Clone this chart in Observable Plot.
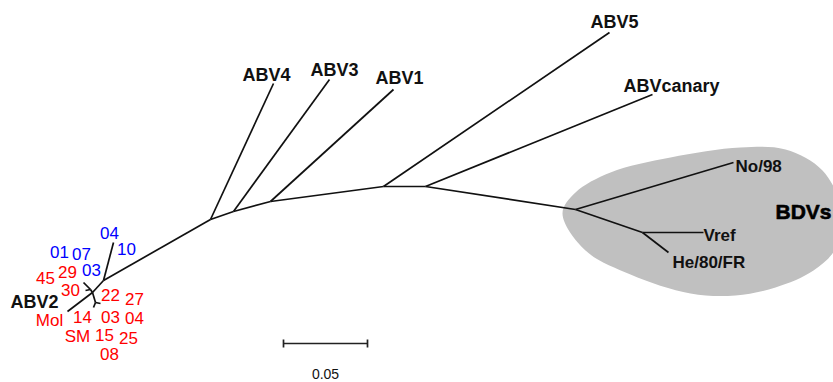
<!DOCTYPE html>
<html><head><meta charset="utf-8">
<script src="https://cdn.jsdelivr.net/npm/d3@7"></script>
<script src="https://cdn.jsdelivr.net/npm/@observablehq/plot@0.6"></script>
<style>html,body{margin:0;padding:0;background:#fff;overflow:hidden}</style>
</head><body><div id="chart"></div>
<script>
// Tree nodes (layout coordinates of the unrooted tree drawing)
const nodeId = ["a2","j1","j3","b4","b3","b1","b5","bc","bd","bv","t4","t3","t1","t5","tc","tno","tvr","the","tbl","h","w1","w2","yn","w3","w4"];
const nodeX  = [67, 92, 103, 210, 233, 270, 383, 425, 575, 642, 273, 329, 393, 609, 652, 733, 703, 668, 113, 90, 83, 85, 95, 100, 93];
const nodeY  = [311, 292, 280, 219, 211, 201, 186, 186, 209, 232, 83, 79, 89, 32, 94, 162, 232, 252, 242, 289, 282, 290, 302, 303, 307];

// Branches
const edgeFrom = ["a2","j1","j3","b4","b3","b1","b5","bc","bd","j3","b4","b3","b1","b5","bc","bd","bv","bv","j1","h","h","j1","yn","yn"];
const edgeTo   = ["j1","j3","b4","b3","b1","b5","bc","bd","bv","tbl","t4","t3","t1","t5","tc","tno","tvr","the","h","w1","w2","yn","w3","w4"];

// BDV clade outline
const blobX = [562,575,610,670,740,785,822,841,835,813,775,735,690,630,585];
const blobY = [213,192,172,157,147,149,170,210,248,270,287,295,293,274,250];

// Clade / strain labels (start-anchored)
const cladeText = ["ABV4","ABV3","ABV1","ABV5","ABVcanary","ABV2"];
const cladeX = [242,310,375,590,623,10];
const cladeY = [80,75,83,27,91,307];
const bdvText = ["No/98","Vref","He/80/FR"];
const bdvX = [735,703,672];
const bdvY = [171,240,267];
const groupText = ["BDVs"];
const groupX = [775];
const groupY = [218];

// Isolate labels (centered)
const isoText  = ["04","10","01","07","03","45","29","30","22","27","Mol","14","03","04","SM","15","25","08"];
const isoGroup = ["blue","blue","blue","blue","blue","red","red","red","red","red","red","red","red","red","red","red","red","red"];
const isoX = [109,126,59,81,91,45,67,70,110,134,49,82,110,134,77,104,128,109];
const isoY = [238,254,257,259,275,283,277,295,300,304,325,322,322,323,341,340,343,359];

// Scale bar
const scaleValue = 0.05;
const unitsPerBranch = 1680;
const scaleX0 = 283, scaleY0 = 343;

const pos = new Map(nodeId.map((id,i)=>[id,[nodeX[i],nodeY[i]]]));
const edges = edgeFrom.map((f,i)=>({x1:pos.get(f)[0],y1:pos.get(f)[1],x2:pos.get(edgeTo[i])[0],y2:pos.get(edgeTo[i])[1]}));
const blob = blobX.map((x,i)=>({x,y:blobY[i]}));
const clades = cladeText.map((t,i)=>({t,x:cladeX[i],y:cladeY[i]}));
const bdvs = bdvText.map((t,i)=>({t,x:bdvX[i],y:bdvY[i]}));
const groups = groupText.map((t,i)=>({t,x:groupX[i],y:groupY[i]}));
const isos = isoText.map((t,i)=>({t,g:isoGroup[i],x:isoX[i],y:isoY[i]}));
const sx1 = scaleX0 + scaleValue*unitsPerBranch;
const bar = [{x1:scaleX0,y1:scaleY0,x2:sx1,y2:scaleY0},{x1:scaleX0,y1:scaleY0-4,x2:scaleX0,y2:scaleY0+4},{x1:sx1,y1:scaleY0-4,x2:sx1,y2:scaleY0+4}];

const font = "'Liberation Sans', Arial, sans-serif";
const chart = Plot.plot({
  width: 833, height: 382,
  margin: 0,
  x: {domain:[0,833], range:[0,833], axis:null},
  y: {domain:[0,382], range:[0,382], axis:null},
  color: {domain:["blue","red"], range:["#0000ff","#ff0000"]},
  style: {fontFamily: font, background:"#fff"},
  marks: [
    Plot.line(blob, {x:"x", y:"y", curve:"catmull-rom-closed", fill:"#c0c0c0", stroke:"none", clip:true}),
    Plot.link(edges, {x1:"x1",y1:"y1",x2:"x2",y2:"y2", stroke:"#111", strokeWidth:1.7}),
    Plot.link(bar, {x1:"x1",y1:"y1",x2:"x2",y2:"y2", stroke:"#222", strokeWidth:1.7}),
    Plot.text(["0.05"], {x:[(scaleX0+sx1)/2], y:[378], text:d=>d, fontSize:14, fill:"#111", lineAnchor:"bottom"}),
    Plot.text(clades, {x:"x", y:"y", text:"t", textAnchor:"start", lineAnchor:"bottom", fontSize:18, fontWeight:"bold", fill:"#111"}),
    Plot.text(bdvs, {x:"x", y:"y", text:"t", textAnchor:"start", lineAnchor:"bottom", fontSize:17, fontWeight:"bold", fill:"#111"}),
    Plot.text(groups, {x:"x", y:"y", text:"t", textAnchor:"start", lineAnchor:"bottom", fontSize:21, fontWeight:"bold", fill:"#000", stroke:"#000", strokeWidth:0.6}),
    Plot.text(isos, {x:"x", y:"y", text:"t", fill:"g", textAnchor:"middle", lineAnchor:"bottom", fontSize:17})
  ]
});
document.getElementById("chart").append(chart);
</script></body></html>
